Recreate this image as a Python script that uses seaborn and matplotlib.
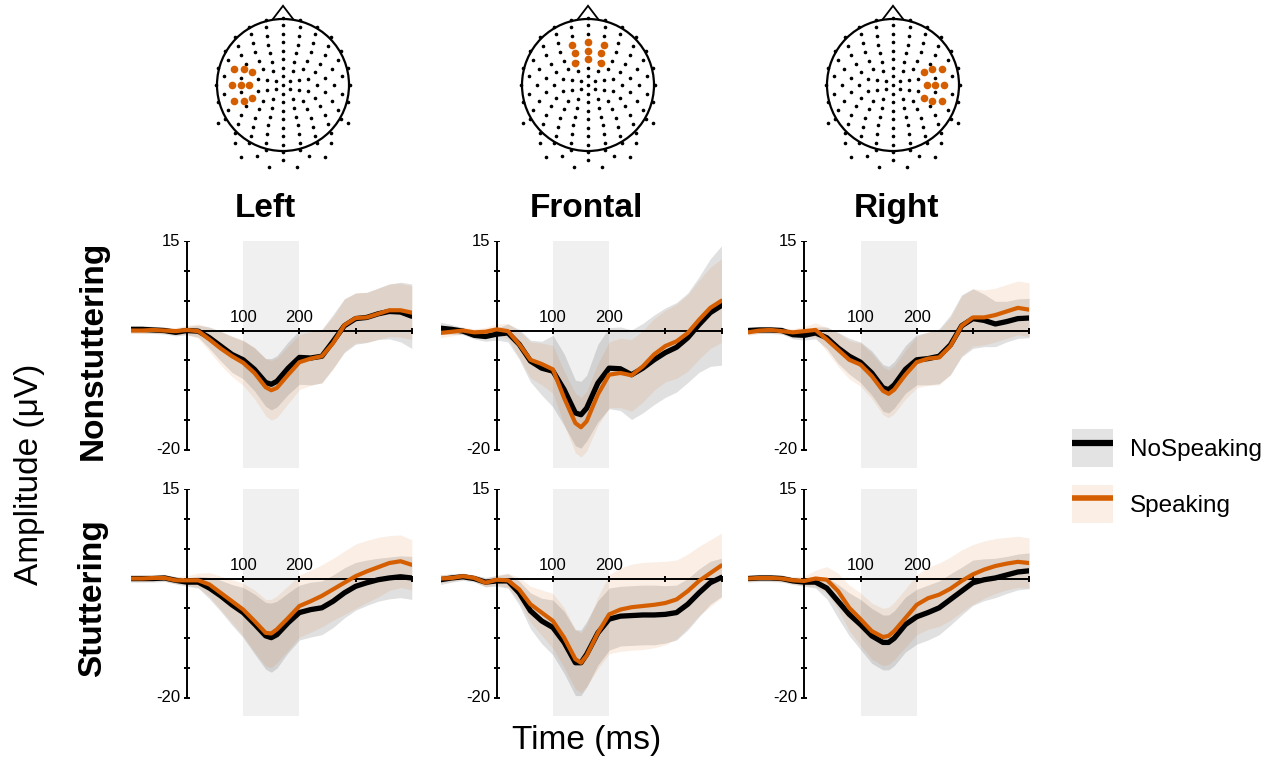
import matplotlib
matplotlib.use("Agg")
import matplotlib.pyplot as plt
from matplotlib.lines import Line2D
from matplotlib.patches import Patch, Circle, Polygon
from matplotlib.legend_handler import HandlerTuple
import numpy as np
import pandas as pd
import seaborn as sns

#####################################
# Data
#####################################

times = [-100, -80, -60, -40, -20, 0, 20, 40, 60, 80, 100, 120, 140, 150,
         160, 180, 200, 220, 240, 260, 280, 300, 320, 340, 360, 380, 400]

regions = ["Left", "Frontal", "Right"]
groups = ["Nonstuttering", "Stuttering"]
conditions = ["NoSpeaking", "Speaking"]

# grand averages (uV)
nons_left_nospk = [0.2, 0.2, 0.1, 0.0, -0.3, 0.0, -0.1, -1.2, -2.6, -4.0, -4.9, -6.5, -8.7, -9.0,
                   -8.5, -6.3, -4.5, -4.6, -4.3, -1.8, 0.8, 2.0, 2.2, 2.8, 3.2, 3.1, 2.4]
nons_left_spk = [0.0, 0.0, 0.1, 0.0, -0.1, 0.1, -0.1, -1.5, -3.0, -4.3, -5.4, -7.1, -9.5, -10.0,
                 -9.6, -7.4, -5.3, -4.7, -4.3, -2.1, 0.9, 2.1, 2.2, 2.8, 3.4, 3.4, 3.0]
nons_front_nospk = [0.4, 0.2, -0.1, -0.8, -1.0, -0.6, -0.4, -2.3, -5.1, -6.3, -6.8, -9.9, -13.8, -14.1,
                    -13.0, -8.8, -6.3, -6.4, -7.4, -6.3, -4.9, -3.7, -2.8, -1.2, 1.0, 3.0, 4.2]
nons_front_spk = [-0.4, -0.2, 0.0, -0.3, -0.2, 0.2, -0.1, -2.3, -4.9, -5.6, -6.5, -11.3, -15.5, -16.2,
                  -15.2, -10.7, -7.4, -7.1, -7.5, -6.0, -4.0, -2.6, -1.8, -0.4, 1.8, 3.8, 5.0]
nons_right_nospk = [0.0, 0.1, 0.1, 0.0, -0.7, -0.8, -0.4, -1.2, -2.9, -4.3, -5.3, -7.1, -9.6, -9.9,
                    -9.1, -6.5, -4.9, -4.7, -4.3, -2.4, 0.8, 2.0, 1.7, 1.1, 1.5, 2.0, 2.1]
nons_right_spk = [-0.3, 0.0, 0.1, -0.1, -0.3, -0.1, 0.1, -1.5, -3.2, -4.9, -5.7, -7.6, -10.1, -10.6,
                  -9.9, -7.4, -5.3, -4.7, -4.5, -2.6, 0.8, 2.2, 2.2, 2.6, 3.2, 3.8, 3.5]
stut_left_nospk = [0.0, 0.0, 0.0, 0.1, -0.3, -0.6, -0.6, -1.6, -2.9, -4.4, -5.7, -7.6, -9.6, -9.9,
                   -9.4, -7.4, -5.7, -5.2, -4.9, -3.8, -2.4, -1.3, -0.7, -0.2, 0.1, 0.3, 0.1]
stut_left_spk = [0.0, 0.0, 0.1, 0.1, -0.3, -0.3, -0.3, -1.0, -2.4, -3.8, -5.2, -7.1, -9.1, -9.2,
                 -8.5, -6.6, -4.6, -3.8, -2.9, -1.8, -0.7, 0.4, 1.2, 1.9, 2.6, 2.9, 2.3]
stut_front_nospk = [-0.2, 0.1, 0.3, 0.0, -0.6, -0.4, -0.4, -2.4, -5.4, -7.1, -8.2, -10.7, -14.1, -14.1,
                    -12.7, -9.1, -6.8, -6.3, -6.2, -6.1, -6.1, -6.0, -5.7, -4.3, -2.4, -0.7, 0.2]
stut_front_spk = [0.0, 0.1, 0.4, 0.1, -0.7, -0.2, -0.3, -1.8, -4.3, -5.7, -7.1, -9.9, -13.5, -14.1,
                  -12.9, -9.1, -6.0, -5.2, -4.8, -4.6, -4.4, -4.1, -3.5, -2.1, -0.4, 0.9, 2.2]
stut_right_nospk = [0.0, 0.1, 0.1, 0.0, -0.4, -0.6, -0.6, -1.6, -3.8, -6.0, -7.7, -9.6, -10.7, -10.7,
                    -10.0, -7.7, -6.4, -5.7, -4.9, -3.5, -2.1, -0.7, -0.2, 0.1, 0.6, 1.1, 1.3]
stut_right_spk = [0.0, 0.1, 0.1, 0.0, -0.3, -0.4, 0.0, -0.2, -2.1, -4.9, -6.8, -8.8, -9.8, -9.6,
                  -8.8, -6.6, -4.4, -3.3, -2.7, -1.7, -0.4, 0.7, 1.5, 2.1, 2.5, 2.8, 2.6]

# ribbon half widths (uV)
nons_left_nospk_hw = [0.6, 0.6, 0.6, 0.6, 0.6, 0.7, 1.0, 1.8, 2.5, 3.0, 3.2, 3.6, 4.0, 4.3,
                      4.3, 4.4, 4.5, 4.5, 4.5, 4.5, 4.5, 4.3, 4.2, 4.3, 4.6, 5.0, 5.4]
nons_left_spk_hw = [0.5, 0.5, 0.5, 0.5, 0.6, 0.8, 1.2, 2.0, 2.8, 3.4, 3.8, 4.3, 4.8, 5.0,
                    5.0, 4.8, 4.6, 4.5, 4.4, 4.4, 4.4, 4.2, 4.2, 4.3, 4.4, 4.5, 4.5]
nons_front_nospk_hw = [1.0, 0.8, 0.6, 0.6, 0.8, 1.0, 1.5, 2.5, 3.5, 4.5, 6.0, 6.0, 5.5, 5.6,
                       5.5, 6.5, 6.8, 7.0, 7.5, 7.5, 7.5, 7.5, 7.5, 7.5, 8.0, 9.0, 10.0]
nons_front_spk_hw = [0.8, 0.7, 0.6, 0.6, 0.7, 0.9, 1.3, 2.2, 3.0, 3.5, 4.0, 4.5, 5.0, 5.0,
                     5.0, 5.2, 5.5, 5.8, 6.0, 6.0, 6.0, 6.0, 6.2, 6.4, 6.6, 6.8, 7.0]
nons_right_nospk_hw = [0.6, 0.6, 0.6, 0.6, 0.7, 0.8, 1.0, 1.8, 2.6, 3.0, 3.4, 3.7, 3.9, 3.9,
                       3.9, 4.0, 4.2, 4.4, 4.6, 5.0, 5.2, 5.0, 4.4, 3.8, 3.4, 3.3, 3.3]
nons_right_spk_hw = [0.5, 0.5, 0.5, 0.5, 0.6, 0.8, 1.2, 2.0, 2.8, 3.2, 3.6, 3.8, 4.0, 4.0,
                     4.0, 4.1, 4.3, 4.5, 4.6, 4.8, 5.0, 4.8, 4.6, 4.5, 4.5, 4.5, 4.5]
stut_left_nospk_hw = [0.6, 0.6, 0.6, 0.6, 0.6, 0.7, 1.0, 1.8, 2.6, 3.4, 4.2, 5.0, 5.6, 5.8,
                      5.6, 5.0, 4.6, 4.6, 4.5, 4.4, 4.2, 4.0, 3.8, 3.6, 3.5, 3.5, 3.6]
stut_left_spk_hw = [0.5, 0.5, 0.5, 0.5, 0.6, 0.8, 1.2, 2.0, 2.8, 3.6, 4.4, 5.2, 5.6, 5.7,
                    5.6, 5.4, 5.2, 5.2, 5.2, 5.2, 5.3, 5.4, 5.2, 5.0, 4.6, 4.4, 4.2]
stut_front_nospk_hw = [0.8, 0.7, 0.6, 0.6, 0.8, 0.9, 1.2, 2.0, 3.0, 3.8, 4.6, 5.2, 5.5, 5.5,
                       5.5, 5.4, 5.2, 5.0, 5.0, 5.0, 5.0, 4.8, 4.6, 4.3, 4.0, 3.6, 3.2]
stut_front_spk_hw = [0.7, 0.6, 0.5, 0.5, 0.7, 0.8, 1.2, 2.0, 3.0, 3.8, 4.6, 5.0, 5.0, 5.0,
                     5.2, 6.0, 6.6, 7.0, 7.2, 7.3, 7.2, 7.0, 6.6, 6.2, 5.8, 5.6, 5.4]
stut_right_nospk_hw = [0.6, 0.6, 0.6, 0.6, 0.6, 0.7, 1.0, 1.8, 2.8, 3.6, 4.2, 4.6, 4.6, 4.6,
                       4.6, 4.6, 4.6, 4.6, 4.5, 4.3, 4.0, 3.8, 3.5, 3.3, 3.1, 3.0, 3.0]
stut_right_spk_hw = [0.5, 0.5, 0.5, 0.5, 0.6, 0.8, 1.4, 2.2, 3.0, 3.8, 4.4, 4.7, 4.8, 4.8,
                     4.8, 4.9, 5.0, 5.2, 5.3, 5.3, 5.2, 5.0, 4.8, 4.6, 4.4, 4.3, 4.2]

# electrodes of each region of interest (head radius = 1)
roi_left_x = [-0.735, -0.595, -0.475, -0.77, -0.64, -0.51, -0.735, -0.595, -0.475]
roi_left_y = [0.24, 0.25, 0.20, 0.0, 0.0, 0.0, -0.235, -0.235, -0.195]
roi_front_x = [-0.24, 0.0, 0.24, -0.19, 0.0, 0.20, -0.19, 0.0, 0.20]
roi_front_y = [0.61, 0.65, 0.61, 0.485, 0.52, 0.485, 0.34, 0.39, 0.34]
roi_right_x = [0.735, 0.595, 0.475, 0.77, 0.64, 0.51, 0.735, 0.595, 0.475]
roi_right_y = [0.24, 0.25, 0.20, 0.0, 0.0, 0.0, -0.235, -0.235, -0.195]

# montage rings: radius, number of sites, angular span (deg)
ring_radius = [0.0, 0.13, 0.26, 0.39, 0.52, 0.65, 0.78, 0.91, 1.02, 1.14, 1.26]
ring_count = [1, 6, 10, 14, 16, 18, 20, 22, 24, 7, 4]
ring_start = [90, 90, 90, 90, 90, 90, 90, 90, 90, 210, 240]
ring_stop = [450, 450, 450, 450, 450, 450, 450, 450, 450, 330, 300]

series = {
    ("Nonstuttering", "Left"): (nons_left_nospk, nons_left_nospk_hw, nons_left_spk, nons_left_spk_hw),
    ("Nonstuttering", "Frontal"): (nons_front_nospk, nons_front_nospk_hw, nons_front_spk, nons_front_spk_hw),
    ("Nonstuttering", "Right"): (nons_right_nospk, nons_right_nospk_hw, nons_right_spk, nons_right_spk_hw),
    ("Stuttering", "Left"): (stut_left_nospk, stut_left_nospk_hw, stut_left_spk, stut_left_spk_hw),
    ("Stuttering", "Frontal"): (stut_front_nospk, stut_front_nospk_hw, stut_front_spk, stut_front_spk_hw),
    ("Stuttering", "Right"): (stut_right_nospk, stut_right_nospk_hw, stut_right_spk, stut_right_spk_hw),
}
roi = {"Left": (roi_left_x, roi_left_y), "Frontal": (roi_front_x, roi_front_y),
       "Right": (roi_right_x, roi_right_y)}

rows = []
for (grp, reg), (m0, h0, m1, h1) in series.items():
    for cond, m, h in ((conditions[0], m0, h0), (conditions[1], m1, h1)):
        for t, v, w in zip(times, m, h):
            rows.append({"group": grp, "region": reg, "condition": cond,
                         "time": t, "amp": v, "lo": v - w, "hi": v + w})
df = pd.DataFrame(rows)

#####################################
# Style
#####################################

ORANGE = "#D55E00"
line_color = {"NoSpeaking": "black", "Speaking": ORANGE}
line_width = {"NoSpeaking": 3.8, "Speaking": 3.0}
ribbon_alpha = {"NoSpeaking": 0.12, "Speaking": 0.1}

sns.set_theme(style="white")
plt.rcParams["font.family"] = ["Liberation Sans", "DejaVu Sans"]
plt.rcParams["text.color"] = "black"

W, H = 1273, 763
fig = plt.figure(figsize=(W / 100, H / 100), dpi=100)


def add_px_axes(left, top, width, height):
    return fig.add_axes([left / W, 1 - (top + height) / H, width / W, height / H])


zero_px = [187.0, 496.7, 804.3]
top_px = [241.0, 489.0]
px_per_ms = 0.562
px_per_uv = 5.97
head_cx = [283, 588, 893]

#####################################
# ERP panels
#####################################

for r, grp in enumerate(groups):
    for c, reg in enumerate(regions):
        ax = add_px_axes(zero_px[c] - 100 * px_per_ms, top_px[r],
                         500 * px_per_ms, 38 * px_per_uv)
        ax.axvspan(100, 200, color="#f0f0f0", lw=0, zorder=0)
        sub = df[(df.group == grp) & (df.region == reg)]
        for cond in conditions:
            d = sub[sub.condition == cond]
            ax.fill_between(d.time, d.lo, d.hi, color=line_color[cond],
                            alpha=ribbon_alpha[cond], lw=0, zorder=1)
        # axes drawn through the origin
        ax.plot([0, 0], [-20, 15], color="black", lw=1.4, zorder=2)
        ax.plot([0, 400], [0, 0], color="black", lw=1.4, zorder=2)
        ax.plot([0] * 8, np.arange(-20, 16, 5), ls="none", marker="_",
                ms=5, mew=1.4, color="black", zorder=2)
        ax.plot([100, 200, 300, 400], [0] * 4, ls="none", marker="|",
                ms=5, mew=1.4, color="black", zorder=2)
        for cond in conditions:
            d = sub[sub.condition == cond]
            sns.lineplot(data=d, x="time", y="amp", color=line_color[cond],
                         lw=line_width[cond], ax=ax, legend=False,
                         estimator=None, sort=False, zorder=3)
        ax.set_xlim(-100, 400)
        ax.set_ylim(-23, 15)
        ax.set_axis_off()
        ax.text(-12, 15, "15", ha="right", va="center", fontsize=12)
        ax.text(-12, -20, "-20", ha="right", va="center", fontsize=12)
        ax.text(100, 1.0, "100", ha="center", va="bottom", fontsize=12)
        ax.text(200, 1.0, "200", ha="center", va="bottom", fontsize=12)

#####################################
# Scalp maps
#####################################

sites_x, sites_y = [], []
for rad, n, a0, a1 in zip(ring_radius, ring_count, ring_start, ring_stop):
    if rad == 0:
        sites_x.append(0.0)
        sites_y.append(0.0)
        continue
    full = (a1 - a0) >= 360
    ang = np.deg2rad(np.linspace(a0, a1, n, endpoint=not full))
    sites_x.extend(rad * np.cos(ang))
    sites_y.extend(rad * np.sin(ang))

for c, reg in enumerate(regions):
    u = 66
    hx = add_px_axes(head_cx[c] - 1.4 * u, 85 - 1.28 * u, 2.8 * u, 2.63 * u)
    hx.set_xlim(-1.4, 1.4)
    hx.set_ylim(-1.35, 1.28)
    hx.set_axis_off()
    hx.add_patch(Circle((0, 0), 1, fill=False, ec="black", lw=1.6))
    hx.add_patch(Polygon([(-0.16, 0.99), (0, 1.2), (0.16, 0.99)], closed=False,
                         fill=False, ec="black", lw=1.3))
    hx.plot(sites_x, sites_y, ls="none", marker="o", ms=1.6, color="black")
    rx, ry = roi[reg]
    hx.plot(rx, ry, ls="none", marker="o", ms=5.5, color=ORANGE, mec="none")

#####################################
# Labels and legend
#####################################

for c, reg in enumerate(regions):
    fig.text([265, 586, 896][c] / W, 1 - 208 / H, reg, ha="center", va="center",
             fontsize=24, fontweight="bold")
for r, grp in enumerate(groups):
    fig.text(93 / W, 1 - [350, 598][r] / H, grp, ha="center", va="center",
             rotation=90, fontsize=24, fontweight="bold")
fig.text(30 / W, 1 - 474 / H, "Amplitude (\u03bcV)", ha="center", va="center",
         rotation=90, fontsize=24)
fig.text(587 / W, 1 - 741 / H, "Time (ms)", ha="center", va="center", fontsize=24)

handles = [
    (Patch(fc="#e3e3e3", ec="none"),
     Line2D([], [], color="black", lw=4.5, solid_capstyle="butt")),
    (Patch(fc="#fbeee4", ec="none"),
     Line2D([], [], color=ORANGE, lw=4, solid_capstyle="butt")),
]
fig.legend(handles, conditions, handler_map={tuple: HandlerTuple(ndivide=1, pad=0)},
           loc="center left", bbox_to_anchor=(1072 / W, 1 - 476 / H), frameon=False,
           fontsize=17.5, handlelength=1.7, handleheight=2.0, handletextpad=0.7,
           labelspacing=0.75, borderaxespad=0, borderpad=0)

fig.savefig("out.png", dpi=100)
